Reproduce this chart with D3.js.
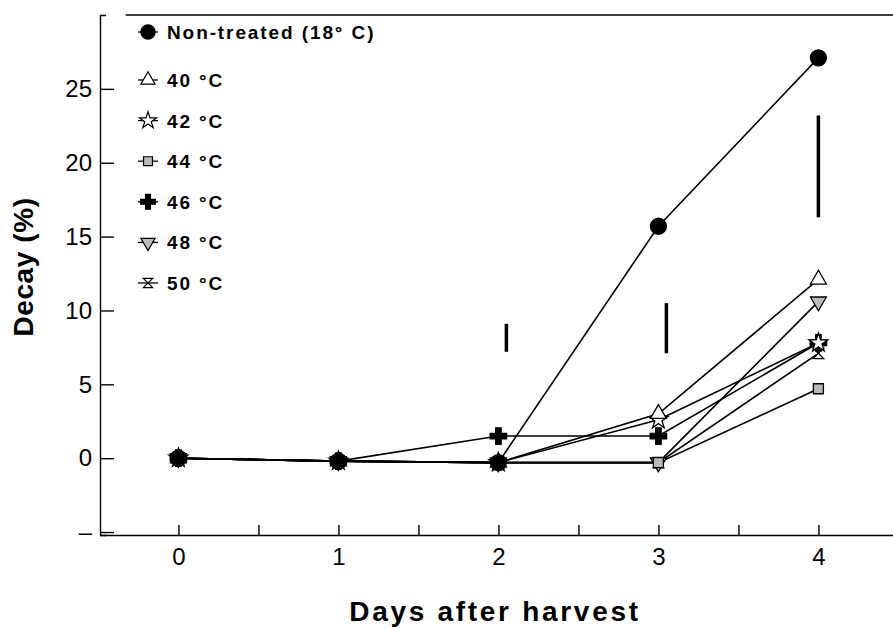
<!DOCTYPE html>
<html lang="en">
<head>
<meta charset="utf-8">
<title>Decay after harvest</title>
<script src="https://cdn.jsdelivr.net/npm/d3@7"></script>
<style>
  body { margin: 0; background: #fff; }
  text { font-family: "Liberation Sans", Arial, sans-serif; fill: #000; }
  .axis path, .axis line { stroke: #000; stroke-width: 1.4; }
  .axis text { font-size: 24px; }
</style>
</head>
<body>
<svg width="893" height="629"></svg>
<script>
// values
var days = [0, 1, 2, 3, 4];
var nonTreated = [0, -0.2, -0.3, 15.7, 27.1];
var t40 = [0, -0.2, -0.3, 3.0, 12.1];
var t42 = [0, -0.2, -0.3, 2.6, 7.8];
var t44 = [0, -0.2, -0.3, -0.3, 4.7];
var t46 = [0, -0.2, 1.5, 1.5, 7.8];
var t48 = [0, -0.2, -0.3, -0.3, 10.6];
var t50 = [0, -0.2, -0.3, -0.3, 7.1];
var seriesNames = ["Non-treated (18\u00b0 C)", "40 \u00b0C", "42 \u00b0C", "44 \u00b0C", "46 \u00b0C", "48 \u00b0C", "50 \u00b0C"];

// LSD bars
var lsdDays = [2.05, 3.05, 4.0];
var lsdLow = [7.2, 7.1, 16.3];
var lsdHigh = [9.1, 10.5, 23.2];

var xTicks = [0, 0.5, 1, 1.5, 2, 2.5, 3, 3.5, 4];
var xTickLabels = ["0", "1", "2", "3", "4"];
var yTicks = [-5, 0, 5, 10, 15, 20, 25];
var yTickLabels = ["\u2013", "0", "5", "10", "15", "20", "25"];

var svg = d3.select("svg");
var x = d3.scaleLinear().domain([-0.49, 4.47]).range([100, 893.6]);
var y = d3.scaleLinear().domain([-5.2, 30]).range([535, 15]);

// marker shapes
var hourglass = {
    draw: function (ctx, size) {
        var s = Math.sqrt(size) / 2;
        ctx.moveTo(-s, -s);
        ctx.lineTo(s, -s);
        ctx.lineTo(-s, s);
        ctx.lineTo(s, s);
        ctx.closePath();
    }
};
var series = [
    {name: seriesNames[0], values: nonTreated, type: d3.symbolCircle, size: 200, fill: "#000", rot: 0},
    {name: seriesNames[1], values: t40, type: d3.symbolTriangle, size: 110, fill: "#fff", rot: 0},
    {name: seriesNames[2], values: t42, type: d3.symbolStar, size: 110, fill: "#fff", rot: 0},
    {name: seriesNames[3], values: t44, type: d3.symbolSquare, size: 100, fill: "#bbb", rot: 0},
    {name: seriesNames[4], values: t46, type: d3.symbolCross, size: 150, fill: "#000", rot: 0},
    {name: seriesNames[5], values: t48, type: d3.symbolTriangle, size: 110, fill: "#bbb", rot: 180},
    {name: seriesNames[6], values: t50, type: hourglass, size: 110, fill: "#fff", rot: 0}
];

// axes
var xAxis = d3.axisBottom(x).tickValues(xTicks)
    .tickSizeInner(-10).tickSizeOuter(0).tickPadding(13)
    .tickFormat(function (d) { return Number.isInteger(d) ? xTickLabels[d] : ""; });
svg.append("g").attr("class", "axis").attr("transform", "translate(0," + y(-5.2) + ")").call(xAxis);

var yAxis = d3.axisLeft(y).tickValues(yTicks)
    .tickSizeInner(-14).tickSizeOuter(-6).tickPadding(8)
    .tickFormat(function (d, i) { return yTickLabels[i]; });
svg.append("g").attr("class", "axis").attr("transform", "translate(" + x(-0.49) + ",0)").call(yAxis);

// top frame line
svg.append("line")
    .attr("x1", x(-0.33)).attr("x2", x(4.47))
    .attr("y1", y(30)).attr("y2", y(30))
    .attr("stroke", "#000").attr("stroke-width", 1.4);

// axis titles
svg.append("text")
    .attr("x", 495).attr("y", 621)
    .attr("text-anchor", "middle")
    .style("font-size", "28px").style("font-weight", "bold").style("letter-spacing", "2.7px")
    .text("Days after harvest");
svg.append("text")
    .attr("transform", "translate(33,267) rotate(-90)")
    .attr("text-anchor", "middle")
    .style("font-size", "28px").style("font-weight", "bold").style("letter-spacing", "0.6px")
    .text("Decay (%)");

// LSD bars
svg.selectAll(".lsd").data(lsdDays).enter().append("line")
    .attr("class", "lsd")
    .attr("x1", function (d) { return x(d); }).attr("x2", function (d) { return x(d); })
    .attr("y1", function (d, i) { return y(lsdLow[i]); })
    .attr("y2", function (d, i) { return y(lsdHigh[i]); })
    .attr("stroke", "#000").attr("stroke-width", 3.5);

// lines
var line = d3.line()
    .x(function (d, i) { return x(days[i]); })
    .y(function (d) { return y(d); });
svg.selectAll(".series-line").data(series).enter().append("path")
    .attr("class", "series-line")
    .attr("d", function (s) { return line(s.values); })
    .attr("fill", "none").attr("stroke", "#000").attr("stroke-width", 1.6);

// markers
series.slice().reverse().forEach(function (s) {
    svg.selectAll(null).data(s.values).enter().append("path")
        .attr("d", d3.symbol().type(s.type).size(s.size))
        .attr("transform", function (d, i) {
            return "translate(" + x(days[i]) + "," + y(d) + ") rotate(" + s.rot + ")";
        })
        .attr("fill", s.fill).attr("stroke", "#000").attr("stroke-width", 1.3);
});

// legend
var legend = svg.append("g");
series.forEach(function (s, i) {
    var ly = i === 0 ? 32 : 80 + (i - 1) * 40.6;
    var g = legend.append("g").attr("transform", "translate(148," + ly + ")");
    g.append("line").attr("x1", -10).attr("x2", 10).attr("stroke", "#000").attr("stroke-width", 1.3);
    g.append("path")
        .attr("d", d3.symbol().type(s.type).size(s.size * 0.8))
        .attr("transform", "rotate(" + s.rot + ")")
        .attr("fill", s.fill).attr("stroke", "#000").attr("stroke-width", 1.2);
    g.append("text")
        .attr("x", 19).attr("y", 7)
        .style("font-size", "19px").style("font-weight", "bold").style("letter-spacing", "1.9px")
        .text(s.name);
});
</script>
</body>
</html>
